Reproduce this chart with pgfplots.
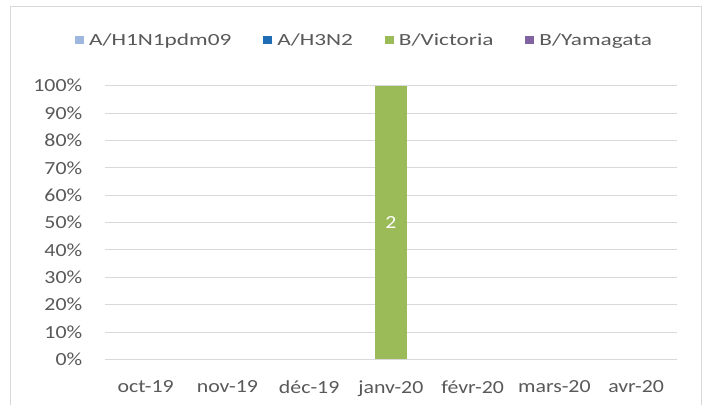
\documentclass[border=0pt]{standalone}
\usepackage{pgfplots}
\pgfplotsset{compat=1.18}
\usepackage{fontspec}
\setmainfont{Carlito}[FakeStretch=1.18]
\newfontfamily\legfont{Carlito}[FakeStretch=1.37]
\definecolor{txt}{HTML}{595959}
\definecolor{gridc}{HTML}{D9D9D9}
\definecolor{hone}{HTML}{9DB7E0}
\definecolor{hthree}{HTML}{1F6EB5}
\definecolor{vic}{HTML}{9BBB59}
\definecolor{yam}{HTML}{8064A2}
\begin{document}
\begin{tikzpicture}
\useasboundingbox (0,0) rectangle (708bp,405bp);
\fill[white] (0,0) rectangle (708bp,405bp);
\draw[gridc, line width=1bp] (10bp,-10bp) rectangle (701bp,398bp);
\begin{axis}[
  at={(104.75bp,45.7bp)}, anchor=south west,
  scale only axis, width=572.25bp, height=273.6bp,
  ybar stacked, bar width=32bp,
  xmin=-0.5, xmax=6.5, ymin=0, ymax=100,
  axis line style={draw=none},
  tick style={draw=none},
  major tick length=0pt,
  xtick={0,...,6},
  xticklabels={oct-19,nov-19,déc-19,janv-20,févr-20,mars-20,avr-20},
  ytick={0,10,...,100},
  yticklabel={\pgfmathprintnumber{\tick}\%},
  /pgf/number format/assume math mode=true,
  xmajorgrids=false, ymajorgrids=true,
  major grid style={draw=gridc, line width=0.8bp},
  tick label style={font=\fontsize{18.5bp}{20bp}\selectfont, text=txt},
  yticklabel style={xshift=-19bp},
  xticklabel style={yshift=-18bp},
  legend columns=4,
  legend style={draw=none, fill=none, at={(0.454,1.166)}, anchor=center,
    font=\legfont\fontsize{17bp}{19bp}\selectfont, text=txt,
    /tikz/every odd column/.append style={column sep=3bp},
    /tikz/every even column/.append style={column sep=30bp}},
  legend image code/.code={\fill[#1] (0bp,-4bp) rectangle (9bp,4bp);},
]
\addplot[fill=hone, draw=none] coordinates {(0,0) (1,0) (2,0) (3,0) (4,0) (5,0) (6,0)};
\addlegendentry{A/H1N1pdm09}
\addplot[fill=hthree, draw=none] coordinates {(0,0) (1,0) (2,0) (3,0) (4,0) (5,0) (6,0)};
\addlegendentry{A/H3N2}
\addplot[fill=vic, draw=none] coordinates {(0,0) (1,0) (2,0) (3,100) (4,0) (5,0) (6,0)};
\addlegendentry{B/Victoria}
\addplot[fill=yam, draw=none] coordinates {(0,0) (1,0) (2,0) (3,0) (4,0) (5,0) (6,0)};
\addlegendentry{B/Yamagata}
\addplot[stack plots=false, sharp plot, draw=none, forget plot,
  nodes near coords, point meta=explicit symbolic,
  every node near coord/.append style={anchor=center, text=white,
    font=\fontsize{18.5bp}{20bp}\selectfont}]
  coordinates {(3,100)[2]};
\end{axis}
\end{tikzpicture}
\end{document}
